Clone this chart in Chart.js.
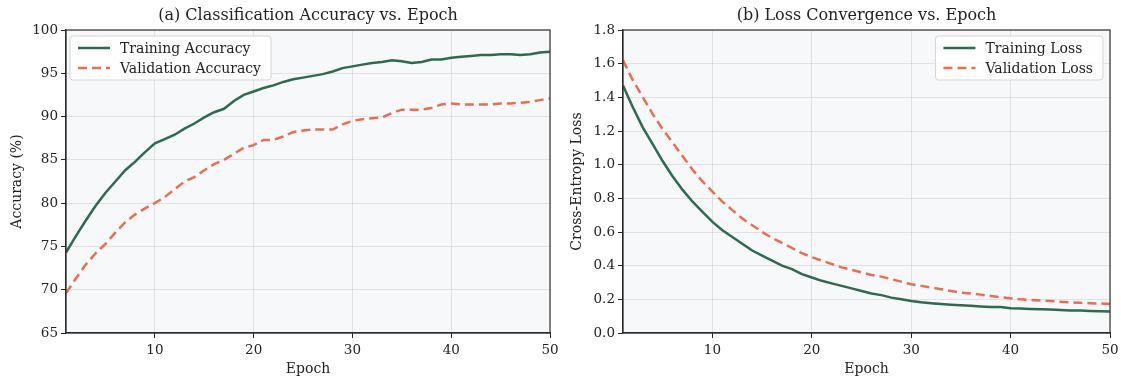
<!DOCTYPE html>
<html>
<head>
<meta charset="utf-8">
<script src="https://cdn.jsdelivr.net/npm/chart.js@4.4.0/dist/chart.umd.min.js"></script>
<style>
  body { margin: 0; background: #fff; }
  #wrap { width: 1121px; height: 378px; display: flex; }
  #left { width: 560px; height: 378px; position: relative; }
  #right { width: 561px; height: 378px; position: relative; }
</style>
</head>
<body>
<div id="wrap">
  <div id="left"><canvas id="acc"></canvas></div>
  <div id="right"><canvas id="loss"></canvas></div>
</div>
<script>
var epochs = [];
for (var i = 1; i <= 50; i++) epochs.push(i);

var trainAcc = [74.3, 76.2, 78.0, 79.7, 81.2, 82.5, 83.8, 84.8, 85.9, 86.9,
                87.4, 87.9, 88.6, 89.2, 89.9, 90.5, 90.9, 91.8, 92.5, 92.9,
                93.3, 93.6, 94.0, 94.3, 94.5, 94.7, 94.9, 95.2, 95.6, 95.8,
                96.0, 96.2, 96.3, 96.5, 96.4, 96.2, 96.3, 96.6, 96.6, 96.8,
                96.9, 97.0, 97.1, 97.1, 97.2, 97.2, 97.1, 97.2, 97.4, 97.5];
var valAcc = [69.6, 71.3, 72.9, 74.2, 75.3, 76.6, 77.8, 78.7, 79.4, 80.0,
              80.7, 81.6, 82.5, 83.0, 83.8, 84.5, 85.0, 85.7, 86.4, 86.7,
              87.3, 87.3, 87.7, 88.2, 88.4, 88.5, 88.5, 88.5, 89.1, 89.5,
              89.7, 89.8, 89.9, 90.4, 90.8, 90.8, 90.8, 91.0, 91.4, 91.5,
              91.4, 91.4, 91.4, 91.4, 91.5, 91.5, 91.6, 91.7, 91.9, 92.1];
var trainLoss = [1.47, 1.34, 1.22, 1.12, 1.02, 0.93, 0.85, 0.78, 0.72, 0.66,
                 0.61, 0.57, 0.53, 0.49, 0.46, 0.43, 0.40, 0.38, 0.35, 0.33,
                 0.31, 0.295, 0.28, 0.265, 0.25, 0.235, 0.225, 0.21, 0.20, 0.19,
                 0.182, 0.177, 0.172, 0.168, 0.165, 0.162, 0.158, 0.155, 0.155, 0.147,
                 0.145, 0.143, 0.141, 0.139, 0.136, 0.133, 0.133, 0.131, 0.129, 0.127];
var valLoss = [1.62, 1.50, 1.40, 1.30, 1.21, 1.13, 1.05, 0.97, 0.90, 0.84,
               0.78, 0.73, 0.68, 0.64, 0.60, 0.565, 0.535, 0.505, 0.475, 0.45,
               0.43, 0.41, 0.39, 0.375, 0.36, 0.345, 0.335, 0.32, 0.305, 0.29,
               0.28, 0.27, 0.26, 0.25, 0.24, 0.235, 0.228, 0.22, 0.213, 0.207,
               0.20, 0.196, 0.193, 0.19, 0.186, 0.182, 0.179, 0.177, 0.175, 0.172];
var xTicks = [10, 20, 30, 40, 50];

var green = '#2d6a4f';
var orange = '#e76f51';
var font = 'DejaVu Serif';
var ink = '#222';

function pts(ys) {
    return ys.map(function (y, i) { return { x: epochs[i], y: y }; });
}

// plot background, frame, title over the plot area and in-plot legend
var frame = {
    id: 'frame',
    beforeDraw: function (chart) {
        var a = chart.chartArea, c = chart.ctx;
        c.save();
        c.fillStyle = '#f6f8fa';
        c.fillRect(a.left, a.top, a.right - a.left, a.bottom - a.top);
        c.restore();
    },
    afterDraw: function (chart, args, opts) {
        var a = chart.chartArea, c = chart.ctx;
        c.save();
        c.strokeStyle = '#333';
        c.lineWidth = 1.2;
        c.strokeRect(a.left, a.top, a.right - a.left, a.bottom - a.top);

        c.fillStyle = ink;
        c.font = '16px "' + font + '"';
        c.textAlign = 'center';
        c.textBaseline = 'middle';
        c.fillText(opts.title, (a.left + a.right) / 2, 16);

        c.textAlign = 'left';
        c.font = '14px "' + font + '"';
        var items = chart.data.datasets;
        var w = 0;
        items.forEach(function (d) { w = Math.max(w, c.measureText(d.label).width); });
        var boxW = w + 60, boxH = 44;
        var bx = opts.side === 'left' ? a.left + 4 : a.right - 7 - boxW;
        var by = a.top + 6;
        c.fillStyle = 'rgba(255,255,255,0.85)';
        c.strokeStyle = '#d5d5d5';
        c.lineWidth = 1;
        c.beginPath();
        c.roundRect(bx, by, boxW, boxH, 3);
        c.fill();
        c.stroke();
        items.forEach(function (d, k) {
            var y = by + 12 + k * 20;
            c.strokeStyle = d.borderColor;
            c.lineWidth = 2.5;
            c.setLineDash(d.borderDash || []);
            c.beginPath();
            c.moveTo(bx + 8, y);
            c.lineTo(bx + 40, y);
            c.stroke();
            c.setLineDash([]);
            c.fillStyle = ink;
            c.fillText(d.label, bx + 50, y + 1);
        });
        c.restore();
    }
};

function makeChart(id, title, yTitle, d1, d2, yMin, yMax, step, fmt, side, yWidth, padR) {
    return new Chart(document.getElementById(id), {
        type: 'line',
        data: {
            datasets: [{
                label: d1.label, data: pts(d1.data), borderColor: green,
                borderWidth: 2.5, pointRadius: 0, tension: 0
            }, {
                label: d2.label, data: pts(d2.data), borderColor: orange,
                borderWidth: 2.5, borderDash: [9, 5], pointRadius: 0, tension: 0
            }]
        },
        options: {
            responsive: true,
            maintainAspectRatio: false,
            animation: false,
            layout: { padding: { left: 0, right: padR, top: 30, bottom: 0 } },
            plugins: {
                legend: { display: false },
                tooltip: { enabled: false },
                frame: { side: side, title: title }
            },
            scales: {
                x: {
                    type: 'linear', min: 1, max: 50,
                    afterBuildTicks: function (s) { s.ticks = xTicks.map(function (v) { return { value: v }; }); },
                    afterFit: function (s) { s.height = 45; s.paddingRight = 0; s.paddingLeft = 0; },
                    grid: { color: 'rgba(0,0,0,0.09)', tickColor: ink, tickLength: 5 },
                    border: { color: ink, width: 1.2 },
                    ticks: { color: ink, font: { family: font, size: 13.5 }, padding: 4, maxRotation: 0 },
                    title: { display: true, text: 'Epoch', color: ink, font: { family: font, size: 14 }, padding: { top: 0, bottom: 0 } }
                },
                y: {
                    min: yMin, max: yMax,
                    afterFit: function (s) { s.width = yWidth; s.paddingTop = 0; s.paddingBottom = 0; },
                    grid: { color: 'rgba(0,0,0,0.09)', tickColor: ink, tickLength: 5 },
                    border: { color: ink, width: 1.2 },
                    ticks: { color: ink, stepSize: step, font: { family: font, size: 13.5 }, padding: 3, callback: fmt },
                    title: { display: true, text: yTitle, color: ink, font: { family: font, size: 14 }, padding: { top: 9, bottom: 0 } }
                }
            }
        },
        plugins: [frame]
    });
}

makeChart('acc', '(a) Classification Accuracy vs. Epoch', 'Accuracy (%)',
    { label: 'Training Accuracy', data: trainAcc },
    { label: 'Validation Accuracy', data: valAcc },
    65, 100, 5, function (v) { return v; }, 'left', 66, 10);

makeChart('loss', '(b) Loss Convergence vs. Epoch', 'Cross-Entropy Loss',
    { label: 'Training Loss', data: trainLoss },
    { label: 'Validation Loss', data: valLoss },
    0, 1.8, 0.2, function (v) { return v.toFixed(1); }, 'right', 63, 11);
</script>
</body>
</html>
